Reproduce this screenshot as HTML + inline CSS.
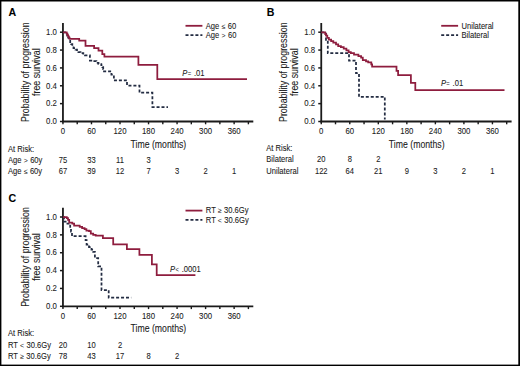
<!DOCTYPE html>
<html><head><meta charset="utf-8"><style>
html,body{margin:0;padding:0;background:#fff;}
body{width:520px;height:366px;overflow:hidden;}
svg{display:block;font-family:"Liberation Sans", sans-serif;}
text{stroke:#1a1a1a;stroke-width:0.08px;}
</style></head><body>
<svg width="520" height="366" viewBox="0 0 520 366">
<rect x="0" y="0" width="520" height="366" fill="#fff"/>
<text x="8.40" y="16.00" font-size="10.6" text-anchor="start" font-weight="bold" fill="#000" >A</text>
<text transform="translate(28.50,72.20) rotate(-90)" font-size="10.0" textLength="99.60" lengthAdjust="spacingAndGlyphs" text-anchor="middle" fill="#1a1a1a">Probability of progression</text>
<text transform="translate(39.80,72.20) rotate(-90)" font-size="10.0" textLength="47.59" lengthAdjust="spacingAndGlyphs" text-anchor="middle" fill="#1a1a1a">free survival</text>
<line x1="62.95" y1="23.00" x2="62.95" y2="122.35" stroke="#1a1a1a" stroke-width="1.8"/>
<line x1="62.05" y1="121.50" x2="253.30" y2="121.50" stroke="#1a1a1a" stroke-width="1.8"/>
<line x1="59.95" y1="121.50" x2="62.95" y2="121.50" stroke="#1a1a1a" stroke-width="1.5"/>
<text transform="translate(56.90,124.25) scale(0.9512,1)" font-size="8.2" text-anchor="end" font-weight="normal" fill="#1a1a1a" >0.0</text>
<line x1="59.95" y1="103.64" x2="62.95" y2="103.64" stroke="#1a1a1a" stroke-width="1.5"/>
<text transform="translate(56.90,106.39) scale(0.9512,1)" font-size="8.2" text-anchor="end" font-weight="normal" fill="#1a1a1a" >0.2</text>
<line x1="59.95" y1="85.78" x2="62.95" y2="85.78" stroke="#1a1a1a" stroke-width="1.5"/>
<text transform="translate(56.90,88.53) scale(0.9512,1)" font-size="8.2" text-anchor="end" font-weight="normal" fill="#1a1a1a" >0.4</text>
<line x1="59.95" y1="67.92" x2="62.95" y2="67.92" stroke="#1a1a1a" stroke-width="1.5"/>
<text transform="translate(56.90,70.67) scale(0.9512,1)" font-size="8.2" text-anchor="end" font-weight="normal" fill="#1a1a1a" >0.6</text>
<line x1="59.95" y1="50.06" x2="62.95" y2="50.06" stroke="#1a1a1a" stroke-width="1.5"/>
<text transform="translate(56.90,52.81) scale(0.9512,1)" font-size="8.2" text-anchor="end" font-weight="normal" fill="#1a1a1a" >0.8</text>
<line x1="59.95" y1="32.20" x2="62.95" y2="32.20" stroke="#1a1a1a" stroke-width="1.5"/>
<text transform="translate(56.90,34.95) scale(0.9512,1)" font-size="8.2" text-anchor="end" font-weight="normal" fill="#1a1a1a" >1.0</text>
<line x1="62.95" y1="121.50" x2="62.95" y2="124.30" stroke="#1a1a1a" stroke-width="1.4"/>
<text transform="translate(62.95,134.30) scale(0.9512,1)" font-size="8.2" text-anchor="middle" font-weight="normal" fill="#1a1a1a" >0</text>
<line x1="77.22" y1="121.50" x2="77.22" y2="124.30" stroke="#1a1a1a" stroke-width="1.4"/>
<line x1="91.48" y1="121.50" x2="91.48" y2="124.30" stroke="#1a1a1a" stroke-width="1.4"/>
<text transform="translate(91.48,134.30) scale(0.9512,1)" font-size="8.2" text-anchor="middle" font-weight="normal" fill="#1a1a1a" >60</text>
<line x1="105.75" y1="121.50" x2="105.75" y2="124.30" stroke="#1a1a1a" stroke-width="1.4"/>
<line x1="120.01" y1="121.50" x2="120.01" y2="124.30" stroke="#1a1a1a" stroke-width="1.4"/>
<text transform="translate(120.01,134.30) scale(0.9512,1)" font-size="8.2" text-anchor="middle" font-weight="normal" fill="#1a1a1a" >120</text>
<line x1="134.28" y1="121.50" x2="134.28" y2="124.30" stroke="#1a1a1a" stroke-width="1.4"/>
<line x1="148.54" y1="121.50" x2="148.54" y2="124.30" stroke="#1a1a1a" stroke-width="1.4"/>
<text transform="translate(148.54,134.30) scale(0.9512,1)" font-size="8.2" text-anchor="middle" font-weight="normal" fill="#1a1a1a" >180</text>
<line x1="162.81" y1="121.50" x2="162.81" y2="124.30" stroke="#1a1a1a" stroke-width="1.4"/>
<line x1="177.07" y1="121.50" x2="177.07" y2="124.30" stroke="#1a1a1a" stroke-width="1.4"/>
<text transform="translate(177.07,134.30) scale(0.9512,1)" font-size="8.2" text-anchor="middle" font-weight="normal" fill="#1a1a1a" >240</text>
<line x1="191.33" y1="121.50" x2="191.33" y2="124.30" stroke="#1a1a1a" stroke-width="1.4"/>
<line x1="205.60" y1="121.50" x2="205.60" y2="124.30" stroke="#1a1a1a" stroke-width="1.4"/>
<text transform="translate(205.60,134.30) scale(0.9512,1)" font-size="8.2" text-anchor="middle" font-weight="normal" fill="#1a1a1a" >300</text>
<line x1="219.87" y1="121.50" x2="219.87" y2="124.30" stroke="#1a1a1a" stroke-width="1.4"/>
<line x1="234.13" y1="121.50" x2="234.13" y2="124.30" stroke="#1a1a1a" stroke-width="1.4"/>
<text transform="translate(234.13,134.30) scale(0.9512,1)" font-size="8.2" text-anchor="middle" font-weight="normal" fill="#1a1a1a" >360</text>
<line x1="248.39" y1="121.50" x2="248.39" y2="124.30" stroke="#1a1a1a" stroke-width="1.4"/>
<text x="158.40" y="147.50" font-size="10.3" text-anchor="middle" font-weight="normal" fill="#1a1a1a" textLength="55.75" lengthAdjust="spacingAndGlyphs">Time (months)</text>
<path d="M62.95,32.30 L66.20,32.30 L66.20,33.80 L67.20,33.80 L67.20,35.50 L68.20,35.50 L68.20,37.50 L69.20,37.50 L69.20,39.80 L70.20,39.80 L70.20,42.00 L71.20,42.00 L71.20,44.00 L72.30,44.00 L72.30,46.00 L73.50,46.00 L73.50,48.00 L75.50,48.00 L75.50,49.50 L77.00,49.50 L77.00,51.00 L78.40,51.00 L78.40,52.10 L80.50,52.10 L80.50,53.20 L83.30,53.20 L83.30,54.60 L85.00,54.60 L85.00,55.40 L89.90,55.40 L89.90,60.50 L93.00,60.50 L93.00,61.20 L96.40,61.20 L96.40,62.80 L98.50,62.80 L98.50,64.00 L101.30,64.00 L101.30,65.20 L102.40,65.20 L102.40,67.20 L103.20,67.20 L103.20,69.00 L104.00,69.00 L104.00,71.30 L111.40,71.30 L111.40,74.60 L113.90,74.60 L113.90,80.30 L127.00,80.30 L127.00,85.60 L139.50,85.60 L139.50,92.70 L152.40,92.70 L152.40,107.00 L168.00,107.00" fill="none" stroke="#232c42" stroke-width="1.75" stroke-dasharray="3.0,1.95"/>
<path d="M62.95,32.30 L66.70,32.30 L66.70,33.60 L67.40,33.60 L67.40,35.00 L68.10,35.00 L68.10,36.40 L68.80,36.40 L68.80,37.70 L69.50,37.70 L69.50,38.90 L79.20,38.90 L79.20,40.50 L85.50,40.50 L85.50,45.80 L94.10,45.80 L94.10,48.20 L98.50,48.20 L98.50,50.60 L102.30,50.60 L102.30,54.00 L104.40,54.00 L104.40,56.70 L138.40,56.70 L138.40,64.80 L157.30,64.80 L157.30,79.00 L247.00,79.00" fill="none" stroke="#8e1d3e" stroke-width="1.75"/>
<line x1="185.50" y1="25.80" x2="202.40" y2="25.80" stroke="#8e1d3e" stroke-width="1.8"/>
<text transform="translate(205.80,28.60) scale(0.9268,1)" font-size="8.2" text-anchor="start" font-weight="normal" fill="#1a1a1a" >Age <tspan font-size="7.5" dx="0.12" stroke="none">≤</tspan><tspan dx="0.27"> 60</tspan></text>
<line x1="185.50" y1="35.10" x2="202.40" y2="35.10" stroke="#232c42" stroke-width="1.75" stroke-dasharray="3.0,1.95"/>
<text transform="translate(205.80,37.90) scale(0.9268,1)" font-size="8.2" text-anchor="start" font-weight="normal" fill="#1a1a1a" >Age <tspan font-size="7.5" dx="0.12" stroke="none">&gt;</tspan><tspan dx="0.29"> 60</tspan></text>
<text transform="translate(182.30,75.80) scale(0.9268,1)" font-size="8.2" fill="#1a1a1a"><tspan font-style="italic">P</tspan><tspan font-size="6.3" dx="0.33" stroke="none">=</tspan><tspan dx="0.78"> .01</tspan></text>
<text transform="translate(8.00,151.50) scale(0.9268,1)" font-size="8.2" text-anchor="start" font-weight="normal" fill="#1a1a1a" >At Risk:</text>
<text transform="translate(8.00,162.90) scale(0.9268,1)" font-size="8.2" text-anchor="start" font-weight="normal" fill="#1a1a1a" >Age <tspan font-size="7.5" dx="0.12" stroke="none">&gt;</tspan><tspan dx="0.29"> 60y</tspan></text>
<text transform="translate(62.95,162.90) scale(0.9268,1)" font-size="8.2" text-anchor="middle" font-weight="normal" fill="#1a1a1a" >75</text>
<text transform="translate(91.48,162.90) scale(0.9268,1)" font-size="8.2" text-anchor="middle" font-weight="normal" fill="#1a1a1a" >33</text>
<text transform="translate(120.01,162.90) scale(0.9268,1)" font-size="8.2" text-anchor="middle" font-weight="normal" fill="#1a1a1a" >11</text>
<text transform="translate(148.54,162.90) scale(0.9268,1)" font-size="8.2" text-anchor="middle" font-weight="normal" fill="#1a1a1a" >3</text>
<text transform="translate(8.00,174.30) scale(0.9268,1)" font-size="8.2" text-anchor="start" font-weight="normal" fill="#1a1a1a" >Age <tspan font-size="7.5" dx="0.12" stroke="none">≤</tspan><tspan dx="0.27"> 60y</tspan></text>
<text transform="translate(62.95,174.30) scale(0.9268,1)" font-size="8.2" text-anchor="middle" font-weight="normal" fill="#1a1a1a" >67</text>
<text transform="translate(91.48,174.30) scale(0.9268,1)" font-size="8.2" text-anchor="middle" font-weight="normal" fill="#1a1a1a" >39</text>
<text transform="translate(120.01,174.30) scale(0.9268,1)" font-size="8.2" text-anchor="middle" font-weight="normal" fill="#1a1a1a" >12</text>
<text transform="translate(148.54,174.30) scale(0.9268,1)" font-size="8.2" text-anchor="middle" font-weight="normal" fill="#1a1a1a" >7</text>
<text transform="translate(177.07,174.30) scale(0.9268,1)" font-size="8.2" text-anchor="middle" font-weight="normal" fill="#1a1a1a" >3</text>
<text transform="translate(205.60,174.30) scale(0.9268,1)" font-size="8.2" text-anchor="middle" font-weight="normal" fill="#1a1a1a" >2</text>
<text transform="translate(234.13,174.30) scale(0.9268,1)" font-size="8.2" text-anchor="middle" font-weight="normal" fill="#1a1a1a" >1</text>
<text x="266.70" y="16.00" font-size="10.6" text-anchor="start" font-weight="bold" fill="#000" >B</text>
<text transform="translate(286.80,72.20) rotate(-90)" font-size="10.0" textLength="99.60" lengthAdjust="spacingAndGlyphs" text-anchor="middle" fill="#1a1a1a">Probability of progression</text>
<text transform="translate(298.10,72.20) rotate(-90)" font-size="10.0" textLength="47.59" lengthAdjust="spacingAndGlyphs" text-anchor="middle" fill="#1a1a1a">free survival</text>
<line x1="321.25" y1="23.00" x2="321.25" y2="122.35" stroke="#1a1a1a" stroke-width="1.8"/>
<line x1="320.35" y1="121.50" x2="511.60" y2="121.50" stroke="#1a1a1a" stroke-width="1.8"/>
<line x1="318.25" y1="121.50" x2="321.25" y2="121.50" stroke="#1a1a1a" stroke-width="1.5"/>
<text transform="translate(315.20,124.25) scale(0.9512,1)" font-size="8.2" text-anchor="end" font-weight="normal" fill="#1a1a1a" >0.0</text>
<line x1="318.25" y1="103.64" x2="321.25" y2="103.64" stroke="#1a1a1a" stroke-width="1.5"/>
<text transform="translate(315.20,106.39) scale(0.9512,1)" font-size="8.2" text-anchor="end" font-weight="normal" fill="#1a1a1a" >0.2</text>
<line x1="318.25" y1="85.78" x2="321.25" y2="85.78" stroke="#1a1a1a" stroke-width="1.5"/>
<text transform="translate(315.20,88.53) scale(0.9512,1)" font-size="8.2" text-anchor="end" font-weight="normal" fill="#1a1a1a" >0.4</text>
<line x1="318.25" y1="67.92" x2="321.25" y2="67.92" stroke="#1a1a1a" stroke-width="1.5"/>
<text transform="translate(315.20,70.67) scale(0.9512,1)" font-size="8.2" text-anchor="end" font-weight="normal" fill="#1a1a1a" >0.6</text>
<line x1="318.25" y1="50.06" x2="321.25" y2="50.06" stroke="#1a1a1a" stroke-width="1.5"/>
<text transform="translate(315.20,52.81) scale(0.9512,1)" font-size="8.2" text-anchor="end" font-weight="normal" fill="#1a1a1a" >0.8</text>
<line x1="318.25" y1="32.20" x2="321.25" y2="32.20" stroke="#1a1a1a" stroke-width="1.5"/>
<text transform="translate(315.20,34.95) scale(0.9512,1)" font-size="8.2" text-anchor="end" font-weight="normal" fill="#1a1a1a" >1.0</text>
<line x1="321.25" y1="121.50" x2="321.25" y2="124.30" stroke="#1a1a1a" stroke-width="1.4"/>
<text transform="translate(321.25,134.30) scale(0.9512,1)" font-size="8.2" text-anchor="middle" font-weight="normal" fill="#1a1a1a" >0</text>
<line x1="335.51" y1="121.50" x2="335.51" y2="124.30" stroke="#1a1a1a" stroke-width="1.4"/>
<line x1="349.78" y1="121.50" x2="349.78" y2="124.30" stroke="#1a1a1a" stroke-width="1.4"/>
<text transform="translate(349.78,134.30) scale(0.9512,1)" font-size="8.2" text-anchor="middle" font-weight="normal" fill="#1a1a1a" >60</text>
<line x1="364.05" y1="121.50" x2="364.05" y2="124.30" stroke="#1a1a1a" stroke-width="1.4"/>
<line x1="378.31" y1="121.50" x2="378.31" y2="124.30" stroke="#1a1a1a" stroke-width="1.4"/>
<text transform="translate(378.31,134.30) scale(0.9512,1)" font-size="8.2" text-anchor="middle" font-weight="normal" fill="#1a1a1a" >120</text>
<line x1="392.58" y1="121.50" x2="392.58" y2="124.30" stroke="#1a1a1a" stroke-width="1.4"/>
<line x1="406.84" y1="121.50" x2="406.84" y2="124.30" stroke="#1a1a1a" stroke-width="1.4"/>
<text transform="translate(406.84,134.30) scale(0.9512,1)" font-size="8.2" text-anchor="middle" font-weight="normal" fill="#1a1a1a" >180</text>
<line x1="421.11" y1="121.50" x2="421.11" y2="124.30" stroke="#1a1a1a" stroke-width="1.4"/>
<line x1="435.37" y1="121.50" x2="435.37" y2="124.30" stroke="#1a1a1a" stroke-width="1.4"/>
<text transform="translate(435.37,134.30) scale(0.9512,1)" font-size="8.2" text-anchor="middle" font-weight="normal" fill="#1a1a1a" >240</text>
<line x1="449.63" y1="121.50" x2="449.63" y2="124.30" stroke="#1a1a1a" stroke-width="1.4"/>
<line x1="463.90" y1="121.50" x2="463.90" y2="124.30" stroke="#1a1a1a" stroke-width="1.4"/>
<text transform="translate(463.90,134.30) scale(0.9512,1)" font-size="8.2" text-anchor="middle" font-weight="normal" fill="#1a1a1a" >300</text>
<line x1="478.17" y1="121.50" x2="478.17" y2="124.30" stroke="#1a1a1a" stroke-width="1.4"/>
<line x1="492.43" y1="121.50" x2="492.43" y2="124.30" stroke="#1a1a1a" stroke-width="1.4"/>
<text transform="translate(492.43,134.30) scale(0.9512,1)" font-size="8.2" text-anchor="middle" font-weight="normal" fill="#1a1a1a" >360</text>
<line x1="506.69" y1="121.50" x2="506.69" y2="124.30" stroke="#1a1a1a" stroke-width="1.4"/>
<text x="416.70" y="147.50" font-size="10.3" text-anchor="middle" font-weight="normal" fill="#1a1a1a" textLength="55.75" lengthAdjust="spacingAndGlyphs">Time (months)</text>
<path d="M321.30,32.40 L326.00,32.40 L326.00,39.80 L327.80,39.80 L327.80,53.10 L349.00,53.10 L349.00,60.60 L356.00,60.60 L356.00,73.20 L359.00,73.20 L359.00,96.80 L384.80,96.80 L384.80,119.60" fill="none" stroke="#232c42" stroke-width="1.75" stroke-dasharray="3.0,1.95"/>
<path d="M321.30,32.40 L324.00,32.40 L324.00,32.40 L325.20,32.40 L325.20,34.00 L326.20,34.00 L326.20,35.60 L327.30,35.60 L327.30,37.80 L328.90,37.80 L328.90,39.50 L331.10,39.50 L331.10,41.10 L333.30,41.10 L333.30,42.70 L336.00,42.70 L336.00,44.40 L338.20,44.40 L338.20,46.00 L340.90,46.00 L340.90,47.10 L343.70,47.10 L343.70,48.70 L346.40,48.70 L346.40,50.40 L348.60,50.40 L348.60,52.00 L350.80,52.00 L350.80,53.10 L354.00,53.10 L354.00,54.70 L358.40,54.70 L358.40,56.20 L361.10,56.20 L361.10,57.50 L362.80,57.50 L362.80,60.20 L366.00,60.20 L366.00,61.30 L368.20,61.30 L368.20,62.40 L371.30,62.40 L371.30,64.30 L372.10,64.30 L372.10,66.50 L396.50,66.50 L396.50,70.80 L398.10,70.80 L398.10,75.00 L410.90,75.00 L410.90,82.80 L415.30,82.80 L415.30,90.20 L504.50,90.20 L504.50,90.20" fill="none" stroke="#8e1d3e" stroke-width="1.75"/>
<line x1="441.20" y1="25.80" x2="458.10" y2="25.80" stroke="#8e1d3e" stroke-width="1.8"/>
<text transform="translate(461.50,28.60) scale(0.9268,1)" font-size="8.2" text-anchor="start" font-weight="normal" fill="#1a1a1a" >Unilateral</text>
<line x1="441.20" y1="35.10" x2="458.10" y2="35.10" stroke="#232c42" stroke-width="1.75" stroke-dasharray="3.0,1.95"/>
<text transform="translate(461.50,37.90) scale(0.9268,1)" font-size="8.2" text-anchor="start" font-weight="normal" fill="#1a1a1a" >Bilateral</text>
<text transform="translate(441.00,86.30) scale(0.9268,1)" font-size="8.2" fill="#1a1a1a"><tspan font-style="italic">P</tspan><tspan font-size="6.3" dx="0.33" stroke="none">=</tspan><tspan dx="0.78"> .01</tspan></text>
<text transform="translate(266.30,150.80) scale(0.9268,1)" font-size="8.2" text-anchor="start" font-weight="normal" fill="#1a1a1a" >At Risk:</text>
<text transform="translate(266.30,162.20) scale(0.9268,1)" font-size="8.2" text-anchor="start" font-weight="normal" fill="#1a1a1a" >Bilateral</text>
<text transform="translate(321.25,162.20) scale(0.9268,1)" font-size="8.2" text-anchor="middle" font-weight="normal" fill="#1a1a1a" >20</text>
<text transform="translate(349.78,162.20) scale(0.9268,1)" font-size="8.2" text-anchor="middle" font-weight="normal" fill="#1a1a1a" >8</text>
<text transform="translate(378.31,162.20) scale(0.9268,1)" font-size="8.2" text-anchor="middle" font-weight="normal" fill="#1a1a1a" >2</text>
<text transform="translate(266.30,173.60) scale(0.9268,1)" font-size="8.2" text-anchor="start" font-weight="normal" fill="#1a1a1a" >Unilateral</text>
<text transform="translate(321.25,173.60) scale(0.9268,1)" font-size="8.2" text-anchor="middle" font-weight="normal" fill="#1a1a1a" >122</text>
<text transform="translate(349.78,173.60) scale(0.9268,1)" font-size="8.2" text-anchor="middle" font-weight="normal" fill="#1a1a1a" >64</text>
<text transform="translate(378.31,173.60) scale(0.9268,1)" font-size="8.2" text-anchor="middle" font-weight="normal" fill="#1a1a1a" >21</text>
<text transform="translate(406.84,173.60) scale(0.9268,1)" font-size="8.2" text-anchor="middle" font-weight="normal" fill="#1a1a1a" >9</text>
<text transform="translate(435.37,173.60) scale(0.9268,1)" font-size="8.2" text-anchor="middle" font-weight="normal" fill="#1a1a1a" >3</text>
<text transform="translate(463.90,173.60) scale(0.9268,1)" font-size="8.2" text-anchor="middle" font-weight="normal" fill="#1a1a1a" >2</text>
<text transform="translate(492.43,173.60) scale(0.9268,1)" font-size="8.2" text-anchor="middle" font-weight="normal" fill="#1a1a1a" >1</text>
<text x="8.40" y="201.90" font-size="10.6" text-anchor="start" font-weight="bold" fill="#000" >C</text>
<text transform="translate(28.50,257.00) rotate(-90)" font-size="10.0" textLength="99.60" lengthAdjust="spacingAndGlyphs" text-anchor="middle" fill="#1a1a1a">Probability of progression</text>
<text transform="translate(39.80,257.00) rotate(-90)" font-size="10.0" textLength="47.59" lengthAdjust="spacingAndGlyphs" text-anchor="middle" fill="#1a1a1a">free survival</text>
<line x1="62.95" y1="207.80" x2="62.95" y2="307.15" stroke="#1a1a1a" stroke-width="1.8"/>
<line x1="62.05" y1="306.30" x2="253.30" y2="306.30" stroke="#1a1a1a" stroke-width="1.8"/>
<line x1="59.95" y1="306.30" x2="62.95" y2="306.30" stroke="#1a1a1a" stroke-width="1.5"/>
<text transform="translate(56.90,309.05) scale(0.9512,1)" font-size="8.2" text-anchor="end" font-weight="normal" fill="#1a1a1a" >0.0</text>
<line x1="59.95" y1="288.44" x2="62.95" y2="288.44" stroke="#1a1a1a" stroke-width="1.5"/>
<text transform="translate(56.90,291.19) scale(0.9512,1)" font-size="8.2" text-anchor="end" font-weight="normal" fill="#1a1a1a" >0.2</text>
<line x1="59.95" y1="270.58" x2="62.95" y2="270.58" stroke="#1a1a1a" stroke-width="1.5"/>
<text transform="translate(56.90,273.33) scale(0.9512,1)" font-size="8.2" text-anchor="end" font-weight="normal" fill="#1a1a1a" >0.4</text>
<line x1="59.95" y1="252.72" x2="62.95" y2="252.72" stroke="#1a1a1a" stroke-width="1.5"/>
<text transform="translate(56.90,255.47) scale(0.9512,1)" font-size="8.2" text-anchor="end" font-weight="normal" fill="#1a1a1a" >0.6</text>
<line x1="59.95" y1="234.86" x2="62.95" y2="234.86" stroke="#1a1a1a" stroke-width="1.5"/>
<text transform="translate(56.90,237.61) scale(0.9512,1)" font-size="8.2" text-anchor="end" font-weight="normal" fill="#1a1a1a" >0.8</text>
<line x1="59.95" y1="217.00" x2="62.95" y2="217.00" stroke="#1a1a1a" stroke-width="1.5"/>
<text transform="translate(56.90,219.75) scale(0.9512,1)" font-size="8.2" text-anchor="end" font-weight="normal" fill="#1a1a1a" >1.0</text>
<line x1="62.95" y1="306.30" x2="62.95" y2="309.10" stroke="#1a1a1a" stroke-width="1.4"/>
<text transform="translate(62.95,319.10) scale(0.9512,1)" font-size="8.2" text-anchor="middle" font-weight="normal" fill="#1a1a1a" >0</text>
<line x1="77.22" y1="306.30" x2="77.22" y2="309.10" stroke="#1a1a1a" stroke-width="1.4"/>
<line x1="91.48" y1="306.30" x2="91.48" y2="309.10" stroke="#1a1a1a" stroke-width="1.4"/>
<text transform="translate(91.48,319.10) scale(0.9512,1)" font-size="8.2" text-anchor="middle" font-weight="normal" fill="#1a1a1a" >60</text>
<line x1="105.75" y1="306.30" x2="105.75" y2="309.10" stroke="#1a1a1a" stroke-width="1.4"/>
<line x1="120.01" y1="306.30" x2="120.01" y2="309.10" stroke="#1a1a1a" stroke-width="1.4"/>
<text transform="translate(120.01,319.10) scale(0.9512,1)" font-size="8.2" text-anchor="middle" font-weight="normal" fill="#1a1a1a" >120</text>
<line x1="134.28" y1="306.30" x2="134.28" y2="309.10" stroke="#1a1a1a" stroke-width="1.4"/>
<line x1="148.54" y1="306.30" x2="148.54" y2="309.10" stroke="#1a1a1a" stroke-width="1.4"/>
<text transform="translate(148.54,319.10) scale(0.9512,1)" font-size="8.2" text-anchor="middle" font-weight="normal" fill="#1a1a1a" >180</text>
<line x1="162.81" y1="306.30" x2="162.81" y2="309.10" stroke="#1a1a1a" stroke-width="1.4"/>
<line x1="177.07" y1="306.30" x2="177.07" y2="309.10" stroke="#1a1a1a" stroke-width="1.4"/>
<text transform="translate(177.07,319.10) scale(0.9512,1)" font-size="8.2" text-anchor="middle" font-weight="normal" fill="#1a1a1a" >240</text>
<line x1="191.33" y1="306.30" x2="191.33" y2="309.10" stroke="#1a1a1a" stroke-width="1.4"/>
<line x1="205.60" y1="306.30" x2="205.60" y2="309.10" stroke="#1a1a1a" stroke-width="1.4"/>
<text transform="translate(205.60,319.10) scale(0.9512,1)" font-size="8.2" text-anchor="middle" font-weight="normal" fill="#1a1a1a" >300</text>
<line x1="219.87" y1="306.30" x2="219.87" y2="309.10" stroke="#1a1a1a" stroke-width="1.4"/>
<line x1="234.13" y1="306.30" x2="234.13" y2="309.10" stroke="#1a1a1a" stroke-width="1.4"/>
<text transform="translate(234.13,319.10) scale(0.9512,1)" font-size="8.2" text-anchor="middle" font-weight="normal" fill="#1a1a1a" >360</text>
<line x1="248.39" y1="306.30" x2="248.39" y2="309.10" stroke="#1a1a1a" stroke-width="1.4"/>
<text x="158.40" y="332.30" font-size="10.3" text-anchor="middle" font-weight="normal" fill="#1a1a1a" textLength="55.75" lengthAdjust="spacingAndGlyphs">Time (months)</text>
<path d="M62.95,217.20 L64.00,217.20 L64.00,221.60 L66.50,221.60 L66.50,223.50 L68.50,223.50 L68.50,225.70 L70.20,225.70 L70.20,228.40 L71.00,228.40 L71.00,231.50 L72.00,231.50 L72.00,236.20 L85.60,236.20 L85.60,240.00 L86.60,240.00 L86.60,244.50 L89.00,244.50 L89.00,247.00 L91.50,247.00 L91.50,249.50 L93.20,249.50 L93.20,251.80 L94.90,251.80 L94.90,258.20 L98.20,258.20 L98.20,266.30 L101.50,266.30 L101.50,290.10 L108.70,290.10 L108.70,297.70 L131.20,297.70" fill="none" stroke="#232c42" stroke-width="1.75" stroke-dasharray="3.0,1.95"/>
<path d="M62.95,217.20 L66.80,217.20 L66.80,218.20 L68.00,218.20 L68.00,219.80 L69.20,219.80 L69.20,222.50 L72.30,222.50 L72.30,223.70 L74.10,223.70 L74.10,225.50 L79.70,225.50 L79.70,226.80 L82.10,226.80 L82.10,228.00 L84.60,228.00 L84.60,229.20 L86.40,229.20 L86.40,230.50 L89.00,230.50 L89.00,231.10 L90.80,231.10 L90.80,233.50 L93.20,233.50 L93.20,234.80 L95.70,234.80 L95.70,235.60 L102.90,235.60 L102.90,238.00 L113.20,238.00 L113.20,244.40 L126.90,244.40 L126.90,249.00 L139.40,249.00 L139.40,254.80 L151.90,254.80 L151.90,264.40 L156.70,264.40 L156.70,275.00 L195.40,275.00" fill="none" stroke="#8e1d3e" stroke-width="1.75"/>
<line x1="185.50" y1="210.60" x2="202.40" y2="210.60" stroke="#8e1d3e" stroke-width="1.8"/>
<text transform="translate(205.80,213.40) scale(0.9268,1)" font-size="8.2" text-anchor="start" font-weight="normal" fill="#1a1a1a" >RT <tspan font-size="7.5" dx="0.12" stroke="none">≥</tspan><tspan dx="0.27"> 30.6Gy</tspan></text>
<line x1="185.50" y1="219.90" x2="202.40" y2="219.90" stroke="#232c42" stroke-width="1.75" stroke-dasharray="3.0,1.95"/>
<text transform="translate(205.80,222.70) scale(0.9268,1)" font-size="8.2" text-anchor="start" font-weight="normal" fill="#1a1a1a" >RT <tspan font-size="7.5" dx="0.12" stroke="none">&lt;</tspan><tspan dx="0.29"> 30.6Gy</tspan></text>
<text transform="translate(170.10,271.50) scale(0.9268,1)" font-size="8.2" fill="#1a1a1a"><tspan font-style="italic">P</tspan><tspan font-size="6.3" dx="0.33" stroke="none">&lt;</tspan><tspan dx="0.78"> .0001</tspan></text>
<text transform="translate(8.00,336.30) scale(0.9268,1)" font-size="8.2" text-anchor="start" font-weight="normal" fill="#1a1a1a" >At Risk:</text>
<text transform="translate(8.00,347.70) scale(0.9268,1)" font-size="8.2" text-anchor="start" font-weight="normal" fill="#1a1a1a" >RT <tspan font-size="7.5" dx="0.12" stroke="none">&lt;</tspan><tspan dx="0.29"> 30.6Gy</tspan></text>
<text transform="translate(62.95,347.70) scale(0.9268,1)" font-size="8.2" text-anchor="middle" font-weight="normal" fill="#1a1a1a" >20</text>
<text transform="translate(91.48,347.70) scale(0.9268,1)" font-size="8.2" text-anchor="middle" font-weight="normal" fill="#1a1a1a" >10</text>
<text transform="translate(120.01,347.70) scale(0.9268,1)" font-size="8.2" text-anchor="middle" font-weight="normal" fill="#1a1a1a" >2</text>
<text transform="translate(8.00,359.10) scale(0.9268,1)" font-size="8.2" text-anchor="start" font-weight="normal" fill="#1a1a1a" >RT <tspan font-size="7.5" dx="0.12" stroke="none">≥</tspan><tspan dx="0.27"> 30.6Gy</tspan></text>
<text transform="translate(62.95,359.10) scale(0.9268,1)" font-size="8.2" text-anchor="middle" font-weight="normal" fill="#1a1a1a" >78</text>
<text transform="translate(91.48,359.10) scale(0.9268,1)" font-size="8.2" text-anchor="middle" font-weight="normal" fill="#1a1a1a" >43</text>
<text transform="translate(120.01,359.10) scale(0.9268,1)" font-size="8.2" text-anchor="middle" font-weight="normal" fill="#1a1a1a" >17</text>
<text transform="translate(148.54,359.10) scale(0.9268,1)" font-size="8.2" text-anchor="middle" font-weight="normal" fill="#1a1a1a" >8</text>
<text transform="translate(177.07,359.10) scale(0.9268,1)" font-size="8.2" text-anchor="middle" font-weight="normal" fill="#1a1a1a" >2</text>
<rect x="0" y="0" width="520" height="1.5" fill="#000"/><rect x="0" y="364.6" width="520" height="1.4" fill="#000"/><rect x="0" y="0" width="1.4" height="366" fill="#000"/><rect x="518.3" y="0" width="1.7" height="366" fill="#000"/>
</svg>
</body></html>
